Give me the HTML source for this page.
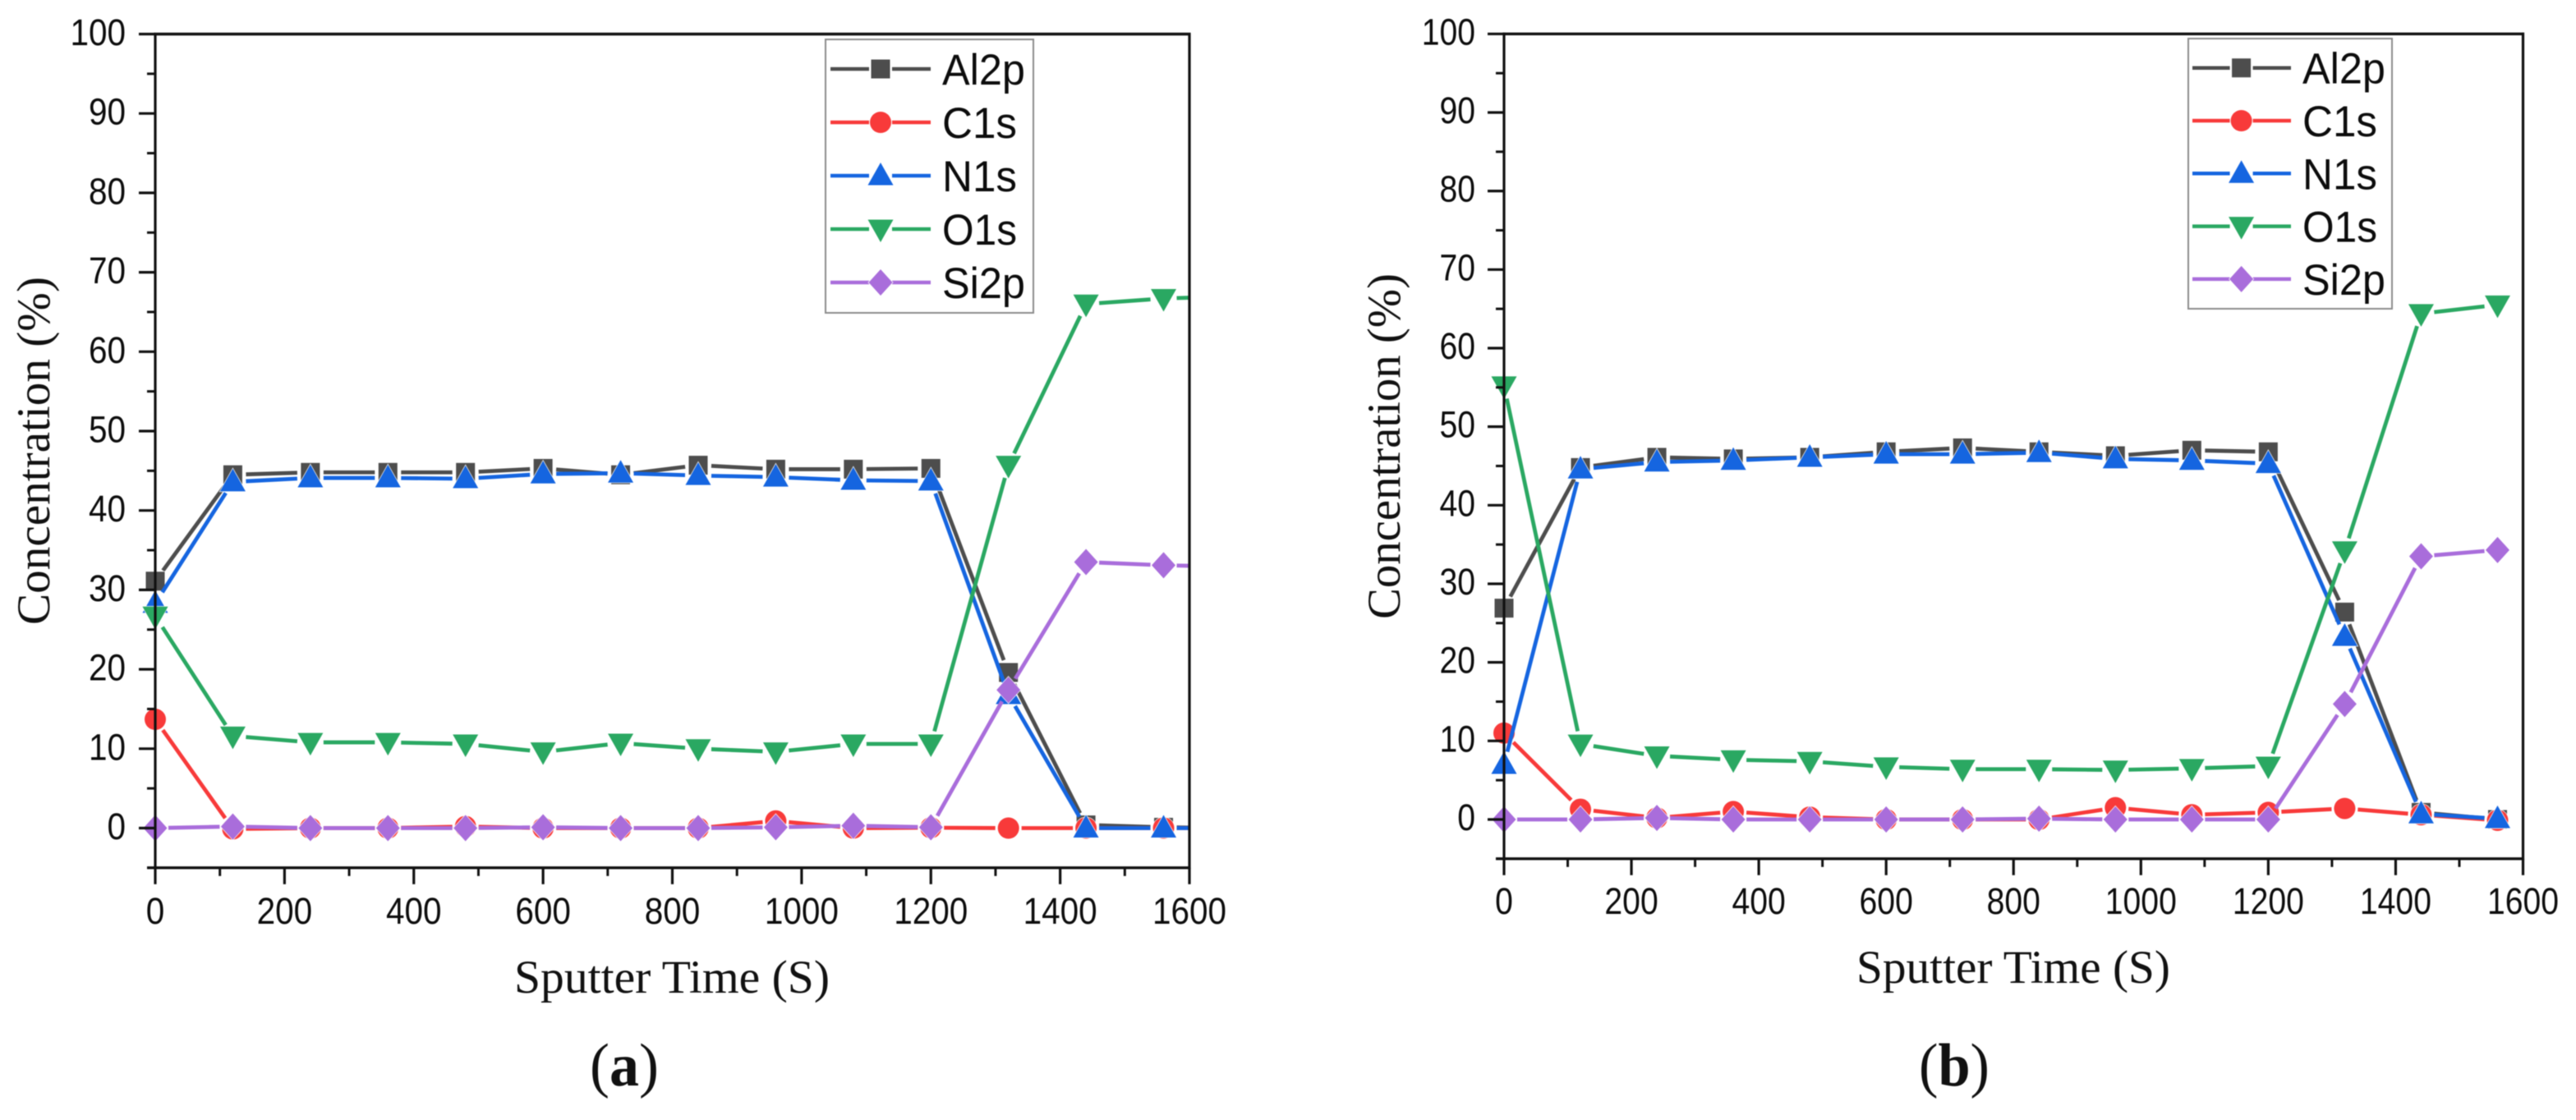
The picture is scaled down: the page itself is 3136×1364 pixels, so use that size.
<!DOCTYPE html>
<html lang="en">
<head>
<meta charset="utf-8">
<title>Sputter depth profiles</title>
<style>
html,body{margin:0;padding:0;background:#fff;width:3136px;height:1364px;overflow:hidden}
svg{display:block;filter:blur(0.6px)}
.serif{font-family:"Liberation Serif",serif;fill:#111}
.sans{font-family:"Liberation Sans",sans-serif;fill:#0c0c0c}
</style>
</head>
<body>
<svg id="chart" xmlns="http://www.w3.org/2000/svg" width="3136" height="1364" viewBox="0 0 3136 1364">
  <rect width="3136" height="1364" fill="#fff"/>
  <text class="serif" x="818" y="1209" font-size="57" text-anchor="middle" textLength="384" lengthAdjust="spacingAndGlyphs">Sputter Time (S)</text>
  <text class="serif" transform="translate(60,549) rotate(-90)" font-size="57" text-anchor="middle" textLength="424" lengthAdjust="spacingAndGlyphs">Concentration (%)</text>
  <text class="serif" x="718" y="1322" font-size="74" textLength="84" lengthAdjust="spacingAndGlyphs">(<tspan font-weight="bold">a</tspan>)</text>
  <text class="serif" x="2451" y="1197" font-size="57" text-anchor="middle" textLength="382" lengthAdjust="spacingAndGlyphs">Sputter Time (S)</text>
  <text class="serif" transform="translate(1704,543.5) rotate(-90)" font-size="57" text-anchor="middle" textLength="421" lengthAdjust="spacingAndGlyphs">Concentration (%)</text>
  <text class="serif" x="2336" y="1322" font-size="74" textLength="86" lengthAdjust="spacingAndGlyphs">(<tspan font-weight="bold">b</tspan>)</text>
</svg>
<script>
// ---- chart data ----
var seriesNames = ['Al2p', 'C1s', 'N1s', 'O1s', 'Si2p'];
var seriesColors = ['#4d4d4d', '#f83a3a', '#1565e0', '#2aa862', '#a96ddb'];
var seriesMarkers = ['square', 'circle', 'triangle-up', 'triangle-down', 'diamond'];
var yTickLabels = [0, 10, 20, 30, 40, 50, 60, 70, 80, 90, 100];
var xTickLabels = [0, 200, 400, 600, 800, 1000, 1200, 1400, 1600];
var sputterTimesA = [0, 120, 240, 360, 480, 600, 720, 840, 960, 1080, 1200, 1320, 1440, 1560, 1680];
var sputterTimesB = [0, 120, 240, 360, 480, 600, 720, 840, 960, 1080, 1200, 1320, 1440, 1560];

var panelAAl = [31.1, 44.5, 44.8, 44.8, 44.8, 45.3, 44.5, 45.7, 45.2, 45.2, 45.3, 19.6, 0.4, 0.1, 0];
var panelAC  = [13.7, -0.1, 0, 0, 0.2, 0, 0, 0, 0.9, 0, 0.05, 0, 0, 0, 0];
var panelAN  = [28.3, 43.6, 44.1, 44.1, 44.0, 44.6, 44.7, 44.4, 44.2, 43.8, 43.7, 16.8, 0, 0, 0];
var panelAO  = [26.7, 11.6, 10.8, 10.8, 10.6, 9.6, 10.7, 10.0, 9.6, 10.6, 10.6, 45.7, 66.0, 66.7, 67.0];
var panelASi = [0, 0.2, 0, 0, 0, 0.1, 0, 0, 0.1, 0.3, 0.1, 17.4, 33.5, 33.1, 32.9];

var panelBAl = [26.9, 44.8, 46.1, 45.9, 46.1, 46.8, 47.3, 46.8, 46.3, 47.0, 46.8, 26.4, 0.9, 0];
var panelBC  = [11.0, 1.3, 0.2, 1.0, 0.3, 0, 0, 0, 1.5, 0.6, 0.9, 1.4, 0.6, -0.1];
var panelBN  = [7.0, 44.6, 45.5, 45.7, 46.1, 46.5, 46.5, 46.7, 45.9, 45.7, 45.3, 23.3, 0.7, 0.1];
var panelBO  = [55.2, 9.6, 8.1, 7.6, 7.4, 6.7, 6.4, 6.4, 6.3, 6.5, 6.8, 34.2, 64.4, 65.5];
var panelBSi = [0, 0, 0.2, 0, 0, 0, 0, 0.1, 0, 0, 0, 14.7, 33.5, 34.3];

var seriesA = [panelAAl, panelAC, panelAN, panelAO, panelASi];
var seriesB = [panelBAl, panelBC, panelBN, panelBO, panelBSi];

// ---- drawing ----
var NS = 'http://www.w3.org/2000/svg';
var svg = document.getElementById('chart');

function make(parent, tag, attrs, name) {
  var el = document.createElementNS(NS, tag);
  for (var k in attrs) el.setAttribute(k, attrs[k]);
  
  
  parent.appendChild(el);
  return el;
}

function drawLine(parent, x1, y1, x2, y2, color, width, name) {
  return make(parent, 'line', {x1: x1, y1: y1, x2: x2, y2: y2, stroke: color, 'stroke-width': width}, name);
}

function drawMarker(parent, kind, cx, cy, color, name) {
  var a = {fill: color, stroke: '#fff', 'stroke-width': 1.6, 'stroke-opacity': 0.85, 'paint-order': 'stroke'};
  if (kind === 'circle') {
    a.cx = cx; a.cy = cy; a.r = 13;
    return make(parent, 'circle', a, name);
  }
  if (kind === 'square') {
    a.x = cx - 11.5; a.y = cy - 11.5; a.width = 23; a.height = 23;
    return make(parent, 'rect', a, name);
  }
  var pts;
  if (kind === 'triangle-up') pts = [[cx, cy - 16], [cx + 15.5, cy + 11.5], [cx - 15.5, cy + 11.5]];
  else if (kind === 'triangle-down') pts = [[cx - 15.5, cy - 11.5], [cx + 15.5, cy - 11.5], [cx, cy + 16]];
  else pts = [[cx, cy - 16], [cx + 14.5, cy], [cx, cy + 16], [cx - 14.5, cy]];
  a.points = pts.map(function (p) { return p[0] + ',' + p[1]; }).join(' ');
  return make(parent, 'polygon', a, name);
}

function drawPanel(p, times, series) {
  var panel = make(svg, 'g', {}, p.id + '-plot');
  function xScale(v) { return p.left + (p.right - p.left) * v / 1600; }
  function yScale(v) { return p.zero - v * p.perUnit; }
  var bottom = yScale(-5), top = yScale(100);

  var clip = make(panel, 'clipPath', {id: p.id + '-clip'}, p.id + '-clip-region');
  make(clip, 'rect', {x: p.left - 40, y: 0, width: p.right - p.left + 40, height: 1364}, p.id + '-clip-rect');

  // series
  series.forEach(function (vals, s) {
    var color = seriesColors[s];
    var g = make(panel, 'g', {}, p.id + '-series-' + seriesNames[s].toLowerCase());
    var lines = make(g, 'g', {'clip-path': 'url(#' + p.id + '-clip)'}, p.id + '-line-' + seriesNames[s].toLowerCase());
    for (var i = 0; i < vals.length - 1; i++) {
      var x1 = xScale(times[i]), y1 = yScale(vals[i]);
      var x2 = xScale(times[i + 1]), y2 = yScale(vals[i + 1]);
      var dx = x2 - x1, dy = y2 - y1, len = Math.sqrt(dx * dx + dy * dy), gap = 16;
      drawLine(lines, x1 + dx * gap / len, y1 + dy * gap / len, x2 - dx * gap / len, y2 - dy * gap / len,
        color, 4.8, p.id + '-segment');
    }
    vals.forEach(function (v, i) {
      if (times[i] > 1600) return;
      drawMarker(g, seriesMarkers[s], xScale(times[i]), yScale(v), color, p.id + '-point-' + seriesNames[s].toLowerCase());
    });
  });

  // axes
  var axes = make(panel, 'g', {}, p.id + '-axes');
  drawLine(axes, p.left, top - 1.5, p.left, bottom + 1.5, '#111', 3.2, p.id + '-y-axis-line');
  drawLine(axes, p.left - 10, bottom, p.right + 1.5, bottom, '#111', 3.4, p.id + '-x-axis-line');
  drawLine(axes, p.left - 1.5, top, p.right + 1.5, top, '#111', 3.4, p.id + '-top-border');
  drawLine(axes, p.right, top - 1.5, p.right, bottom + 1.5, '#111', 3.2, p.id + '-right-border');

  yTickLabels.forEach(function (v) {
    var y = yScale(v);
    drawLine(axes, p.left - 20, y, p.left, y, '#111', 3.2, p.id + '-y-major-tick');
    if (v < 100) drawLine(axes, p.left - 10, yScale(v + 5), p.left, yScale(v + 5), '#111', 3, p.id + '-y-minor-tick');
    var t = make(axes, 'text', {
      transform: 'translate(' + p.yLabelX + ',' + (y + p.yLabelDrop) + ') scale(' + p.textScale + ',1)',
      'font-size': 45, 'text-anchor': 'end', 'class': 'sans'
    }, p.id + '-y-tick-label');
    t.textContent = v;
  });

  xTickLabels.forEach(function (v, i) {
    var x = xScale(v);
    drawLine(axes, x, bottom, x, bottom + 20, '#111', 3.2, p.id + '-x-major-tick');
    if (i < xTickLabels.length - 1) drawLine(axes, xScale(v + 100), bottom, xScale(v + 100), bottom + 10, '#111', 3, p.id + '-x-minor-tick');
    var t = make(axes, 'text', {
      transform: 'translate(' + x + ',' + p.xLabelY + ') scale(' + p.textScale + ',1)',
      'font-size': 45, 'text-anchor': 'middle', 'class': 'sans'
    }, p.id + '-x-tick-label');
    t.textContent = v;
  });

  // legend
  var lg = p.legend;
  var legend = make(panel, 'g', {}, p.id + '-legend');
  make(legend, 'rect', {x: lg.x0, y: lg.y0, width: lg.x1 - lg.x0, height: lg.y1 - lg.y0, fill: '#fff', stroke: '#8c8c8c', 'stroke-width': 2}, p.id + '-legend-box');
  seriesNames.forEach(function (nm, s) {
    var y = lg.firstY + s * lg.stepY;
    var entry = make(legend, 'g', {}, p.id + '-legend-entry-' + nm.toLowerCase());
    drawLine(entry, lg.lineX0, y, lg.markX - 14, y, seriesColors[s], 4.5, p.id + '-legend-line-left');
    drawLine(entry, lg.markX + 14, y, lg.lineX1, y, seriesColors[s], 4.5, p.id + '-legend-line-right');
    drawMarker(entry, seriesMarkers[s], lg.markX, y, seriesColors[s], p.id + '-legend-marker');
    var t = make(entry, 'text', {x: lg.textX, y: y + 19, 'font-size': 53, 'class': 'sans', textLength: nm.length === 4 ? 101 : 91, lengthAdjust: 'spacingAndGlyphs'}, p.id + '-legend-label');
    t.textContent = nm;
  });
}

var layoutA = {
  id: 'panel-a', left: 189, right: 1448, zero: 1008.5, perUnit: 9.67,
  yLabelX: 153, yLabelDrop: 13.5, xLabelY: 1125, textScale: 0.9,
  legend: {x0: 1005, x1: 1258, y0: 48, y1: 381, firstY: 84, stepY: 65, lineX0: 1011, lineX1: 1133, markX: 1072, textX: 1147}
};
var layoutB = {
  id: 'panel-b', left: 1831, right: 3071.5, zero: 998, perUnit: 9.567,
  yLabelX: 1796, yLabelDrop: 13, xLabelY: 1113, textScale: 0.87,
  legend: {x0: 2664, x1: 2912, y0: 47, y1: 376, firstY: 82.7, stepY: 64.3, lineX0: 2669, lineX1: 2789, markX: 2728.6, textX: 2803}
};

drawPanel(layoutA, sputterTimesA, seriesA);
drawPanel(layoutB, sputterTimesB, seriesB);
</script>
</body>
</html>
